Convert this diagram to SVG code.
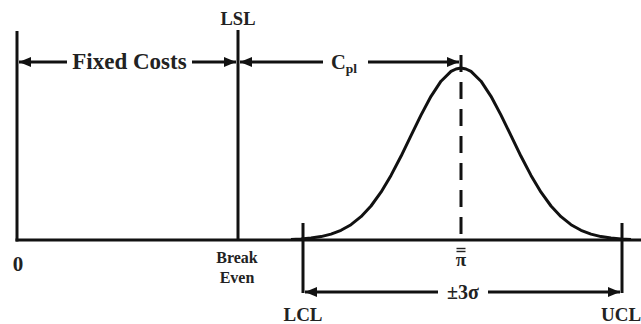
<svg xmlns="http://www.w3.org/2000/svg" width="641" height="324" viewBox="0 0 641 324">
<defs>
<style>
.ln{stroke:#111;stroke-width:3;fill:none}
.t{font-family:"Liberation Serif","Times New Roman",serif;font-weight:bold;fill:#222}
</style>
<marker id="ah" viewBox="0 0 12 10" refX="12" refY="5" markerWidth="12" markerHeight="10" markerUnits="userSpaceOnUse" orient="auto">
<path d="M0,0 L12,5 L0,10 Z" fill="#111"/>
</marker>
</defs>
<rect width="641" height="324" fill="#fff"/>
<g id="axes">
<line class="ln" x1="17" y1="31" x2="17" y2="241.5"/>
<line class="ln" x1="15.5" y1="240" x2="641" y2="240"/>
<line id="lsl-line" class="ln" x1="238" y1="30" x2="238" y2="240"/>
<line class="ln" x1="303" y1="223" x2="303" y2="293"/>
<line class="ln" x1="622" y1="223" x2="622" y2="293"/>
</g>
<g id="curve">
<path class="ln" stroke-width="2.6" d="M291,239.5 L301,239 L311,238.1 L321,236.6 L331,234.1 L341,230.3 L351,224.7 L361,216.7 L371,206 L381,192.2 L391,175.4 L401,156.3 L411,135.7 L421,115.1 L431,96.3 L441,81.2 L451,71.4 L456,69 L461,68 L466,69 L471,71.4 L481,81.2 L491,96.3 L501,115.1 L511,135.7 L521,156.3 L531,175.4 L541,192.2 L551,206 L561,216.7 L571,224.7 L581,230.3 L591,234.1 L601,236.6 L611,238.1 L621,239 L631,239.5" stroke-linejoin="round"/>
<line class="ln" x1="461" y1="55" x2="461" y2="240" stroke-dasharray="17 10"/>
</g>
<g id="connectors">
<line class="ln" x1="67" y1="62" x2="19" y2="62" marker-end="url(#ah)"/>
<line class="ln" x1="192" y1="62" x2="236" y2="62" marker-end="url(#ah)"/>
<line class="ln" x1="323" y1="62" x2="240" y2="62" marker-end="url(#ah)"/>
<line class="ln" x1="368" y1="62" x2="459" y2="62" marker-end="url(#ah)"/>
<line class="ln" x1="438" y1="292" x2="305" y2="292" marker-end="url(#ah)"/>
<line class="ln" x1="488" y1="292" x2="620" y2="292" marker-end="url(#ah)"/>
</g>
<g id="labels">
<text class="t" x="129.5" y="69" font-size="23" text-anchor="middle">Fixed Costs</text>
<text class="t" x="238" y="25" font-size="18.5" text-anchor="middle">LSL</text>
<text class="t" x="331" y="69" font-size="20.5">C<tspan font-size="13.5" dy="4">pl</tspan></text>
<text class="t" x="18" y="271" font-size="21" text-anchor="middle">0</text>
<text class="t" x="237" y="263" font-size="16" text-anchor="middle">Break</text>
<text class="t" x="237" y="283" font-size="16" text-anchor="middle">Even</text>
<text class="t" x="461" y="266" font-size="19" text-anchor="middle">π</text>
<line x1="456.5" y1="248.5" x2="465.5" y2="248.5" stroke="#222" stroke-width="1.4"/>
<line x1="456.5" y1="251.5" x2="465.5" y2="251.5" stroke="#222" stroke-width="1.4"/>
<text class="t" x="463" y="299" font-size="20" text-anchor="middle">±3σ</text>
<text class="t" x="303" y="321" font-size="19" text-anchor="middle">LCL</text>
<text class="t" x="601" y="321" font-size="19">UCL</text>
</g>
</svg>
